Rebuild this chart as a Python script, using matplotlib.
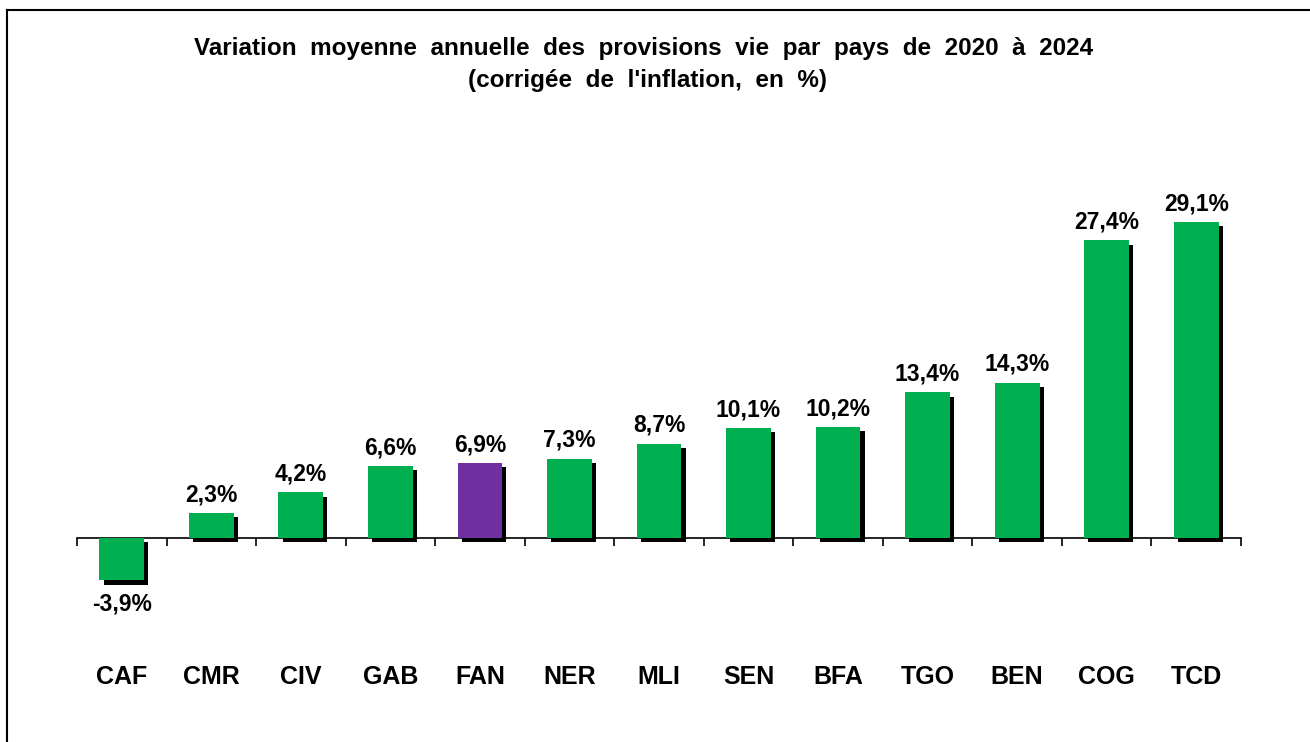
import matplotlib
matplotlib.use("Agg")
import matplotlib.pyplot as plt
import matplotlib.patheffects as pe
import numpy as np

plt.rcParams["font.family"] = ["Liberation Sans", "DejaVu Sans"]

countries = ["CAF", "CMR", "CIV", "GAB", "FAN", "NER", "MLI", "SEN", "BFA", "TGO", "BEN", "COG", "TCD"]
values = [-3.9, 2.3, 4.2, 6.6, 6.9, 7.3, 8.7, 10.1, 10.2, 13.4, 14.3, 27.4, 29.1]
labels = ["-3,9%", "2,3%", "4,2%", "6,6%", "6,9%", "7,3%", "8,7%", "10,1%", "10,2%", "13,4%", "14,3%", "27,4%", "29,1%"]
highlight = "FAN"

green = "#00B050"
purple = "#7030A0"

W, H = 1310, 742
fig = plt.figure(figsize=(W / 100, H / 100), dpi=100)

# border frame (open on right/bottom like the cropped original)
fig.add_artist(plt.Line2D([7 / W, 7 / W], [0, 1 - 10 / H], color="black", lw=1.5))
fig.add_artist(plt.Line2D([7 / W, 1], [1 - 10 / H, 1 - 10 / H], color="black", lw=1.5))

# axes in pixel coords: x 77..1241, y 150..620
ax = fig.add_axes([77 / W, 1 - 620 / H, (1241 - 77) / W, (620 - 150) / H])
px_per_unit = 10.86
ax.set_ylim(-(620 - 538) / px_per_unit, (538 - 150) / px_per_unit)
ax.set_xlim(-0.5, len(countries) - 0.5)

x = np.arange(len(countries))
colors = [purple if c == highlight else green for c in countries]
bars = ax.bar(x, values, width=0.5, color=colors, zorder=3)
for b in bars:
    b.set_path_effects([pe.SimplePatchShadow(offset=(3, -3), shadow_rgbFace="black", alpha=1.0), pe.Normal()])

for xi, v, lab in zip(x, values, labels):
    if v >= 0:
        ax.annotate(lab, (xi, v), xytext=(0, 5), textcoords="offset points",
                    ha="center", va="bottom", fontsize=16.5, fontweight="bold")
    else:
        ax.annotate(lab, (xi, v), xytext=(0, -9), textcoords="offset points",
                    ha="center", va="top", fontsize=16.5, fontweight="bold")

# category labels
for xi, c in zip(x, countries):
    ax.text(xi, (620 - 677) / (620 - 150), c, transform=ax.get_xaxis_transform(),
            ha="center", va="center", fontsize=18, fontweight="bold")

for s in ["top", "right", "left"]:
    ax.spines[s].set_visible(False)
ax.spines["bottom"].set_position(("data", 0))
ax.spines["bottom"].set_linewidth(1.2)
ax.set_yticks([])
ax.set_xticks([])
ax.set_xticks(np.arange(-0.5, len(countries)), minor=True)
ax.tick_params(axis="x", which="minor", direction="out", length=6, width=1.2, labelbottom=False)

fig.text(644 / W, 1 - 49 / H, "Variation  moyenne  annuelle  des  provisions  vie  par  pays  de  2020  à  2024",
         ha="center", va="center", fontsize=17.5, fontweight="bold")
fig.text(647 / W, 1 - 81 / H, "(corrigée  de  l'inflation,  en  %)",
         ha="center", va="center", fontsize=17.5, fontweight="bold")

fig.savefig("out.png", dpi=100)
